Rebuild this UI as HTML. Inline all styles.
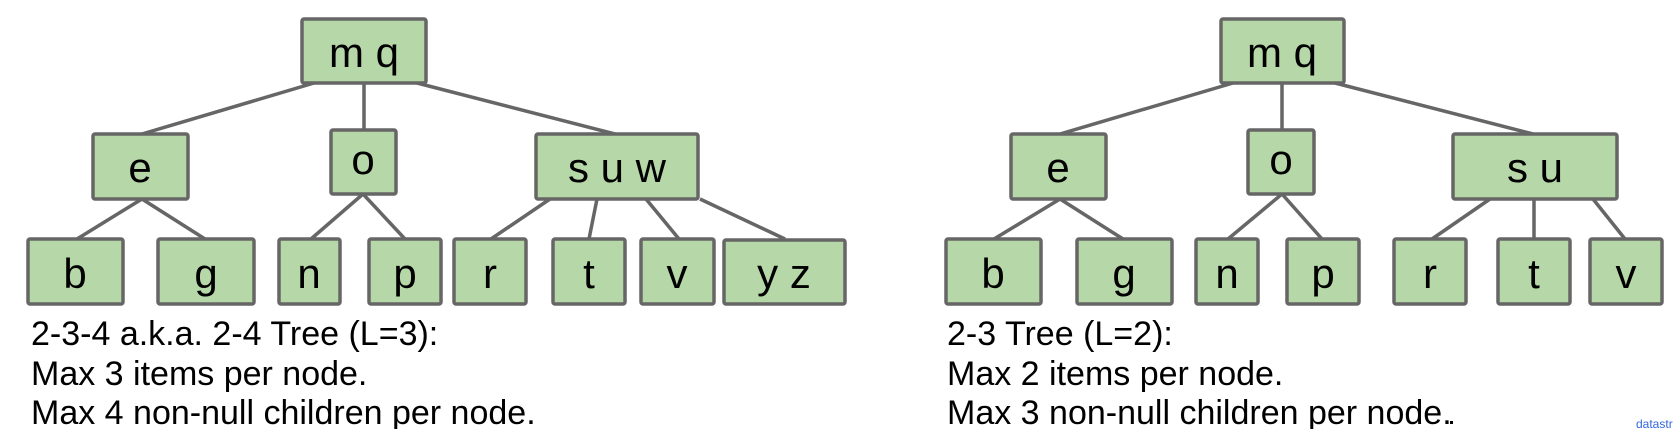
<!DOCTYPE html>
<html><head><meta charset="utf-8"><style>
html,body{margin:0;padding:0;background:#fff;width:1675px;height:429px;overflow:hidden}
svg{display:block}
text{font-family:"Liberation Sans",sans-serif}
</style></head><body>
<svg width="1675" height="429" viewBox="0 0 1675 429">
<g stroke="#666" stroke-width="3.5" fill="none">
<line x1="314" y1="83" x2="142" y2="134"/>
<line x1="364" y1="83" x2="364" y2="130"/>
<line x1="417" y1="83" x2="615" y2="134"/>
<line x1="142" y1="199" x2="77" y2="239"/>
<line x1="142" y1="199" x2="205" y2="239"/>
<line x1="363" y1="194" x2="311" y2="239"/>
<line x1="363" y1="194" x2="405" y2="239"/>
<line x1="550" y1="199" x2="491" y2="239"/>
<line x1="597" y1="199" x2="589" y2="239"/>
<line x1="646" y1="199" x2="679" y2="239"/>
<line x1="700" y1="199" x2="785" y2="239"/>
<line x1="1233" y1="83" x2="1060" y2="134"/>
<line x1="1282" y1="83" x2="1282" y2="130"/>
<line x1="1335" y1="83" x2="1533" y2="134"/>
<line x1="1060" y1="199" x2="994" y2="239"/>
<line x1="1060" y1="199" x2="1123" y2="239"/>
<line x1="1282" y1="194" x2="1228" y2="239"/>
<line x1="1282" y1="194" x2="1322" y2="239"/>
<line x1="1490" y1="199" x2="1432" y2="239"/>
<line x1="1534" y1="199" x2="1534" y2="239"/>
<line x1="1593" y1="199" x2="1625" y2="239"/>
</g>
<g fill="#b6d7a8" stroke="#666" stroke-width="3.5">
<rect x="302" y="19" width="124" height="64" rx="2"/>
<rect x="93" y="134" width="95" height="65" rx="2"/>
<rect x="331" y="130" width="65" height="64" rx="2"/>
<rect x="536" y="134" width="162" height="65" rx="2"/>
<rect x="28" y="239" width="95" height="65" rx="2"/>
<rect x="158" y="239" width="96" height="65" rx="2"/>
<rect x="279" y="239" width="61" height="65" rx="2"/>
<rect x="369" y="239" width="72" height="65" rx="2"/>
<rect x="454" y="239" width="72" height="65" rx="2"/>
<rect x="553" y="239" width="72" height="65" rx="2"/>
<rect x="641" y="239" width="73" height="65" rx="2"/>
<rect x="724" y="240" width="121" height="64" rx="2"/>
<rect x="1221" y="19" width="123" height="64" rx="2"/>
<rect x="1011" y="134" width="95" height="65" rx="2"/>
<rect x="1248" y="130" width="66" height="64" rx="2"/>
<rect x="1453" y="134" width="164" height="65" rx="2"/>
<rect x="946" y="239" width="95" height="65" rx="2"/>
<rect x="1077" y="239" width="95" height="65" rx="2"/>
<rect x="1196" y="239" width="62" height="65" rx="2"/>
<rect x="1287" y="239" width="72" height="65" rx="2"/>
<rect x="1394" y="239" width="72" height="65" rx="2"/>
<rect x="1498" y="239" width="72" height="65" rx="2"/>
<rect x="1590" y="239" width="72" height="65" rx="2"/>
</g>
<g font-size="42" fill="#000" text-anchor="middle">
<text x="364" y="67">m q</text>
<text x="140" y="182">e</text>
<text x="363" y="174">o</text>
<text x="617" y="182">s u w</text>
<text x="75" y="288">b</text>
<text x="206" y="288">g</text>
<text x="309" y="288">n</text>
<text x="405" y="288">p</text>
<text x="490" y="288">r</text>
<text x="589" y="288">t</text>
<text x="677" y="288">v</text>
<text x="784" y="288">y z</text>
<text x="1282" y="67">m q</text>
<text x="1058" y="182">e</text>
<text x="1281" y="174">o</text>
<text x="1535" y="182">s u</text>
<text x="993" y="288">b</text>
<text x="1124" y="288">g</text>
<text x="1227" y="288">n</text>
<text x="1323" y="288">p</text>
<text x="1430" y="288">r</text>
<text x="1534" y="288">t</text>
<text x="1626" y="288">v</text>
</g>
<g font-size="34" fill="#000">
<text x="31" y="345">2-3-4 a.k.a. 2-4 Tree (L=3):</text>
<text x="31" y="385">Max 3 items per node.</text>
<text x="31" y="424">Max 4 non-null children per node.</text>
<text x="947" y="345">2-3 Tree (L=2):</text>
<text x="947" y="385">Max 2 items per node.</text>
<text x="947" y="424">Max 3 non-null children per node.</text>
</g>
<rect x="1450" y="421" width="3" height="3" fill="#000"/>
<text x="1636" y="428" font-size="12" fill="#3366dd">datastr</text>
</svg>
</body></html>
